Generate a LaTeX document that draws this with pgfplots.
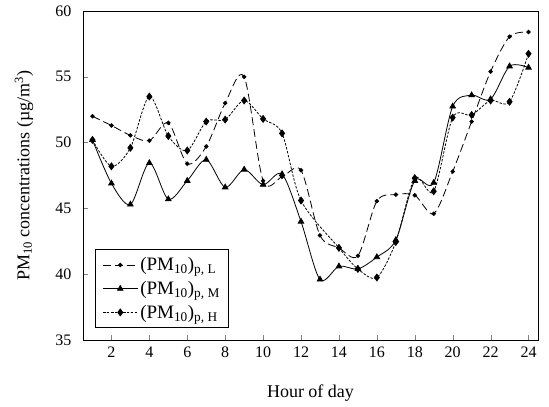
\documentclass[border=0pt]{standalone}
\usepackage{pgfplots}
\pgfplotsset{compat=1.18}
\usepackage{fontspec}
\setmainfont{Liberation Serif}
\begin{document}
\begin{tikzpicture}
\begin{axis}[
  scale only axis, width=455pt, height=329pt,
  xmin=0.5, xmax=24.5, ymin=35, ymax=60,
  xtick={2,4,...,24}, ytick={35,40,...,60},
  tick align=inside, xtick pos=bottom, ytick pos=left,
  major tick length=5pt,
  tick label style={font=\fontsize{16}{18}\selectfont},
  yticklabel style={xshift=-8pt},
  xticklabel style={yshift=-3pt},
  /pgf/number format/assume math mode=true,
  xlabel={Hour of day},
  ylabel={PM\textsubscript{10} concentrations (µg/m\textsuperscript{3})},
  label style={font=\fontsize{18}{20}\selectfont},
  xlabel style={at={(axis description cs:0.5,0)}, anchor=center, yshift=-53pt},
  ylabel style={at={(axis description cs:-0.1297,0.5)}, anchor=center},
  axis line style={line width=0.8pt},
  legend style={at={(0.026,0.036)}, anchor=south west, font=\fontsize{19}{21}\selectfont, draw=black, line width=0.8pt, inner xsep=7pt, inner ysep=6pt, row sep=5pt},
  legend cell align=left,
  legend image code/.code={\draw[mark repeat=2,mark phase=2] plot coordinates {(0cm,0cm)(0.62cm,0cm)(1.24cm,0cm)};},
]
\addplot[black, line width=0.8pt, smooth, dash pattern=on 8pt off 4pt, mark=*, mark size=1.8pt, mark options={solid}] coordinates {
(1,52.0)(2,51.3)(3,50.55)(4,50.15)(5,51.5)(6,48.4)(7,49.7)(8,53.0)(9,55.0)(10,47.1)(11,47.4)(12,47.9)(13,42.95)(14,42.0)(15,41.4)(16,45.55)(17,46.05)(18,46.0)(19,44.6)(20,47.8)(21,51.6)(22,55.4)(23,58.05)(24,58.4)};
\addlegendentry{(PM\textsubscript{10})\textsubscript{p, L}}
\addplot[black, line width=0.8pt, smooth, mark=triangle*, mark size=3.2pt] coordinates {
(1,50.2)(2,46.9)(3,45.3)(4,48.45)(5,45.7)(6,47.1)(7,48.7)(8,46.6)(9,47.95)(10,46.8)(11,47.6)(12,44.0)(13,39.6)(14,40.6)(15,40.4)(16,41.3)(17,42.6)(18,47.1)(19,46.95)(20,52.75)(21,53.6)(22,53.3)(23,55.8)(24,55.7)};
\addlegendentry{(PM\textsubscript{10})\textsubscript{p, M}}
\addplot[black, line width=0.8pt, smooth, dash pattern=on 2.5pt off 1.5pt, mark=diamond*, mark size=3.4pt, mark options={solid}] coordinates {
(1,50.2)(2,48.2)(3,49.6)(4,53.5)(5,50.5)(6,49.4)(7,51.6)(8,51.75)(9,53.2)(10,51.8)(11,50.7)(12,45.6)(14,42.0)(15,40.4)(16,39.75)(17,42.45)(18,47.3)(19,46.3)(20,51.9)(21,52.1)(22,53.2)(23,53.1)(24,56.75)};
\addlegendentry{(PM\textsubscript{10})\textsubscript{p, H}}
\end{axis}
\path ([xshift=-83pt,yshift=-67pt]current axis.south west) rectangle ([xshift=11pt,yshift=11pt]current axis.north east);
\end{tikzpicture}
\end{document}
